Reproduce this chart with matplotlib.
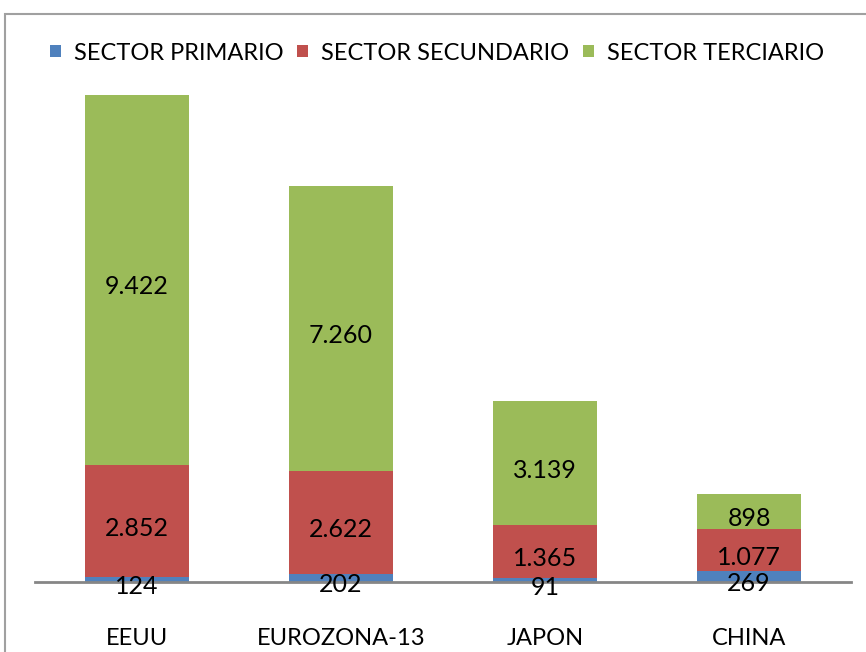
import matplotlib
matplotlib.use('Agg')
import matplotlib.pyplot as plt
from matplotlib.patches import Rectangle
import numpy as np

plt.rcParams['font.family'] = ['Lato', 'DejaVu Sans']

# data
paises = ['EEUU', 'EUROZONA-13', 'JAPON', 'CHINA']
primario = [124, 202, 91, 269]
secundario = [2852, 2622, 1365, 1077]
terciario = [9422, 7260, 3139, 898]

series = [
    ('SECTOR PRIMARIO', primario, '#4F81BD'),
    ('SECTOR SECUNDARIO', secundario, '#C0504D'),
    ('SECTOR TERCIARIO', terciario, '#9BBB59'),
]


def fmt(v):
    return f'{v:,}'.replace(',', '.')


W, H = 866, 652
fig = plt.figure(figsize=(W / 100, H / 100), dpi=100)
fig.patch.set_facecolor('white')

# axes placed in pixel terms: baseline at y=582, x from 35 to 851
ax = fig.add_axes([35 / W, (H - 582) / H, 816 / W, 550 / H])
ax.set_xlim(-0.5, len(paises) - 0.5)
ax.set_ylim(0, 14000)

x = np.arange(len(paises))
bottom = np.zeros(len(paises))
for name, vals, color in series:
    ax.bar(x, vals, width=0.505, bottom=bottom, color=color,
           label=name, zorder=2)
    for xi, b, v in zip(x, bottom, vals):
        ax.annotate(fmt(v), (xi, b + v / 2), xytext=(0, -5),
                    textcoords='offset points', ha='center', va='center',
                    fontsize=18, color='black', zorder=4)
    bottom = bottom + np.array(vals)

ax.set_xticks(x)
ax.set_xticklabels(paises, fontsize=17)
ax.tick_params(axis='x', length=0, pad=33)
ax.set_yticks([])
for s in ['top', 'right', 'left']:
    ax.spines[s].set_visible(False)
ax.spines['bottom'].set_color('#868686')
ax.spines['bottom'].set_linewidth(2)
ax.spines['bottom'].set_zorder(3)
ax.set_facecolor('none')

fig.legend(loc='center', bbox_to_anchor=(437 / W, (H - 53) / H),
           ncol=3, frameon=False, fontsize=17,
           handlelength=0.45, handleheight=0.45, handletextpad=0.55,
           columnspacing=0.6)

# outer chart frame (only top and left edges visible in the crop)
fig.patches.append(Rectangle((5 / W, -0.1), 1.2, (H - 14) / H + 0.1,
                             transform=fig.transFigure, fill=False,
                             edgecolor='#A0A0A0', linewidth=1.5))

fig.savefig('out.png', dpi=100)
